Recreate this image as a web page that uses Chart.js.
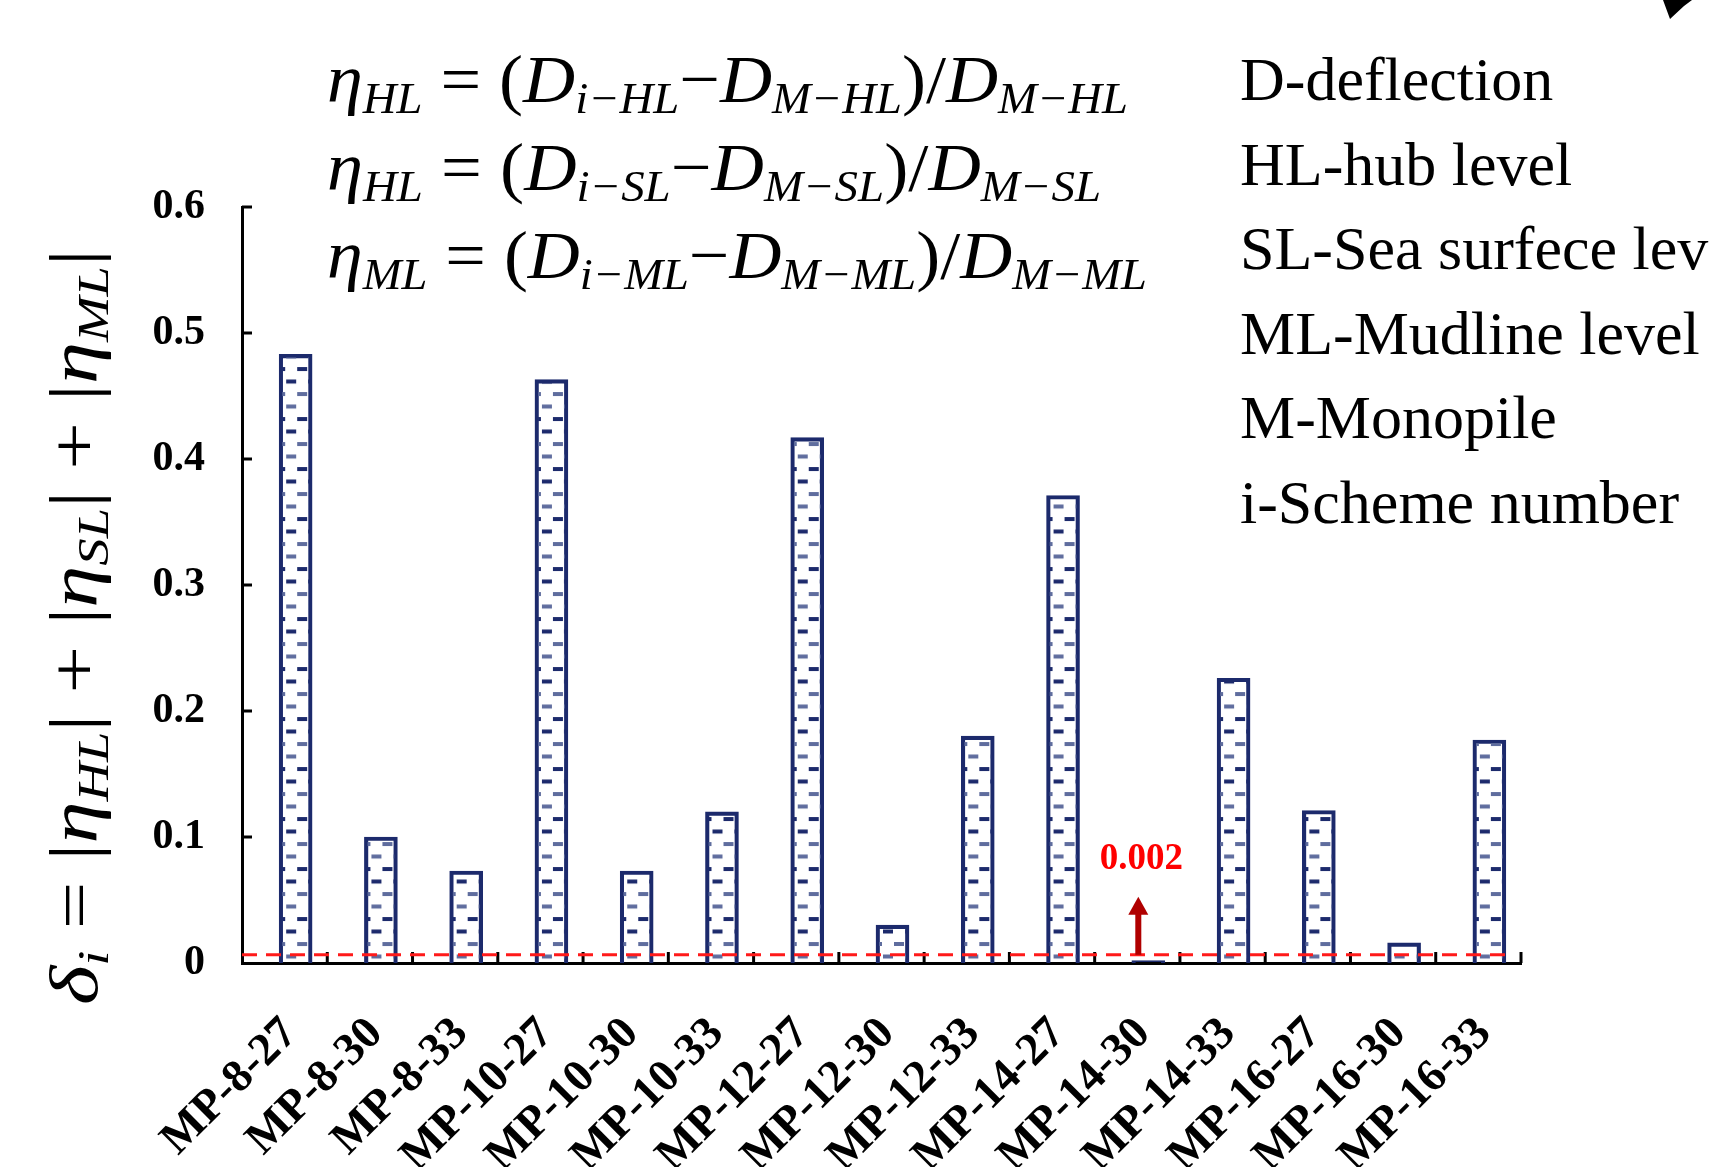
<!DOCTYPE html>
<html>
<head>
<meta charset="utf-8">
<script src="https://cdn.jsdelivr.net/npm/chart.js@4.4.1/dist/chart.umd.min.js"></script>
<style>
  html, body { margin: 0; padding: 0; background: #fff; }
</style>
</head>
<body>
<canvas id="deltaChart" width="1709" height="1167"></canvas>
<script>
const schemes = ["MP-8-27", "MP-8-30", "MP-8-33", "MP-10-27", "MP-10-30", "MP-10-33",
  "MP-12-27", "MP-12-30", "MP-12-33", "MP-14-27", "MP-14-30", "MP-14-33",
  "MP-16-27", "MP-16-30", "MP-16-33"];
const deltaValues = [0.483, 0.100, 0.073, 0.463, 0.073, 0.120, 0.417, 0.030, 0.180,
  0.371, 0.002, 0.226, 0.121, 0.016, 0.177];
const yTicks = [0, 0.1, 0.2, 0.3, 0.4, 0.5, 0.6];
const thresholdValue = 0.0065;
const minIndex = 10;
const minLabel = "0.002";

// formula pieces: i = italic, n = upright, s = italic subscript
const formulaLines = [
  [["η", "i"], ["HL", "s"], [" = (", "n"], ["D", "i"], ["i−HL", "s"], ["−", "n"], ["D", "i"], ["M−HL", "s"], [")/", "n"], ["D", "i"], ["M−HL", "s"]],
  [["η", "i"], ["HL", "s"], [" = (", "n"], ["D", "i"], ["i−SL", "s"], ["−", "n"], ["D", "i"], ["M−SL", "s"], [")/", "n"], ["D", "i"], ["M−SL", "s"]],
  [["η", "i"], ["ML", "s"], [" = (", "n"], ["D", "i"], ["i−ML", "s"], ["−", "n"], ["D", "i"], ["M−ML", "s"], [")/", "n"], ["D", "i"], ["M−ML", "s"]]
];
const yTitle = [["δ", "i"], ["i", "s"], [" = |", "n"], ["η", "i"], ["HL", "s"], ["| + |", "n"], ["η", "i"], ["SL", "s"], ["| + |", "n"], ["η", "i"], ["ML", "s"], ["|", "n"]];
const notes = ["D-deflection", "HL-hub level", "SL-Sea surfece level", "ML-Mudline level", "M-Monopile", "i-Scheme number"];

const navy = "#1c2a6c";
const barOffset = 11;

function dashPattern(g, left) {
  const W = 22, H = 50;
  const c = document.createElement("canvas");
  c.width = W; c.height = H;
  const t = c.getContext("2d");
  const rows = [["#5f6d9e", 0], [navy, 1], [navy, 0], ["#5f6d9e", 1]];
  rows.forEach(([col, stagger], r) => {
    const y = r * 12.5 + 4.5;
    t.fillStyle = col;
    if (stagger) {
      t.fillRect(0, y, 5, 4);
      t.fillRect(W - 5, y, 5, 4);
    } else {
      t.fillRect(W / 2 - 5, y, 10, 4);
    }
  });
  const p = g.createPattern(c, "repeat");
  p.setTransform(new DOMMatrix().translate(left, 0));
  return p;
}

function drawMath(g, segs, x, y, size, targetW, family) {
  const fonts = {
    i: `italic ${size}px ${family}`,
    n: `${size}px ${family}`,
    s: `italic ${Math.round(size * 0.64)}px ${family}`
  };
  let w = 0;
  segs.forEach(([t, k]) => { g.font = fonts[k]; w += g.measureText(t).width; });
  g.save();
  g.translate(x, y);
  g.scale(targetW / w, 1);
  let cx = 0;
  segs.forEach(([t, k]) => {
    g.font = fonts[k];
    g.fillText(t, cx, k === "s" ? size * 0.16 : 0);
    cx += g.measureText(t).width;
  });
  g.restore();
}

const barShift = {
  id: "barShift",
  beforeDatasetsDraw(chart) { chart.ctx.save(); chart.ctx.translate(barOffset, 0); },
  afterDatasetsDraw(chart) { chart.ctx.restore(); }
};

const decorations = {
  id: "decorations",
  afterDraw(chart) {
    const g = chart.ctx;
    const xs = chart.scales.x, ys = chart.scales.y;
    const area = chart.chartArea;
    g.save();
    // inside tick marks
    g.strokeStyle = "#000";
    g.lineWidth = 3;
    yTicks.forEach(v => {
      if (v === 0) return;
      const y = ys.getPixelForValue(v);
      g.beginPath(); g.moveTo(area.left, y); g.lineTo(area.left + 10, y); g.stroke();
    });
    const step = xs.getPixelForValue(1) - xs.getPixelForValue(0);
    schemes.forEach((s, i) => {
      const x = xs.getPixelForValue(i) + step / 2;
      g.beginPath(); g.moveTo(x, area.bottom); g.lineTo(x, area.bottom - 11); g.stroke();
    });

    // red dashed reference line
    const ry = ys.getPixelForValue(thresholdValue);
    g.strokeStyle = "#ff1a1a";
    g.lineWidth = 3;
    g.setLineDash([15, 9]);
    g.beginPath(); g.moveTo(area.left, ry); g.lineTo(area.right - 14, ry); g.stroke();
    g.setLineDash([]);

    // arrow + label for the smallest bar
    const ax = xs.getPixelForValue(minIndex) + 1;
    g.fillStyle = "#b00000";
    g.fillRect(ax - 3, ry - 44, 6, 44);
    g.beginPath();
    g.moveTo(ax - 10, ry - 40); g.lineTo(ax + 10, ry - 40); g.lineTo(ax, ry - 58);
    g.closePath(); g.fill();
    g.fillStyle = "#ff0000";
    g.font = 'bold 37px "Liberation Serif"';
    g.textAlign = "center";
    g.textBaseline = "alphabetic";
    g.fillText(minLabel, ax + 3, ry - 86);

    // formulas
    g.fillStyle = "#000";
    g.textAlign = "left";
    const fBase = [102, 190, 278];
    const fWidth = [801, 774, 820];
    formulaLines.forEach((segs, i) => drawMath(g, segs, 327, fBase[i], 68, fWidth[i], '"Liberation Serif"'));

    // notes on the right
    g.font = '62px "Liberation Serif"';
    notes.forEach((t, i) => g.fillText(t, 1240, 100 + i * 84.5));

    // y axis title
    g.save();
    g.translate(97, 627);
    g.rotate(-Math.PI / 2);
    drawMath(g, yTitle, -378, 0, 68, 756, '"Liberation Serif"');
    g.restore();

    // clipped shape in the corner
    g.beginPath();
    g.moveTo(1663, 0); g.lineTo(1692, 0); g.lineTo(1684, 6); g.lineTo(1670, 19);
    g.closePath(); g.fill();
    g.restore();
  }
};

new Chart(document.getElementById("deltaChart"), {
  type: "bar",
  data: {
    labels: schemes,
    datasets: [{
      data: deltaValues,
      backgroundColor: c => {
        const xs = c.chart.scales.x;
        if (!xs || c.dataIndex === undefined) return "#fff";
        return dashPattern(c.chart.ctx, xs.getPixelForValue(c.dataIndex) - 15.5);
      },
      borderColor: navy,
      borderWidth: 3.5,
      barThickness: 33,
      borderSkipped: "bottom"
    }]
  },
  options: {
    responsive: false,
    animation: false,
    layout: { padding: { top: 207, right: 188, left: 0, bottom: 0 } },
    plugins: {
      legend: { display: false },
      tooltip: { enabled: false }
    },
    scales: {
      x: {
        grid: { display: false, drawTicks: false },
        border: { display: true, color: "#000", width: 3 },
        ticks: {
          autoSkip: false,
          maxRotation: 45,
          minRotation: 45,
          labelOffset: 6,
          padding: 44,
          color: "#000",
          font: { family: "Liberation Serif", weight: "bold", size: 46 }
        },
        afterFit: s => { s.height = 204; }
      },
      y: {
        min: 0,
        max: 0.6,
        afterBuildTicks: s => { s.ticks = yTicks.map(v => ({ value: v })); },
        grid: { display: false, drawTicks: false },
        border: { display: true, color: "#000", width: 3 },
        ticks: {
          padding: 37,
          color: "#000",
          callback: v => v === 0 ? "0" : v.toFixed(1),
          font: { family: "Liberation Serif", weight: "bold", size: 42 }
        },
        afterFit: s => { s.width = 242; }
      }
    }
  },
  plugins: [barShift, decorations]
});
</script>
</body>
</html>
